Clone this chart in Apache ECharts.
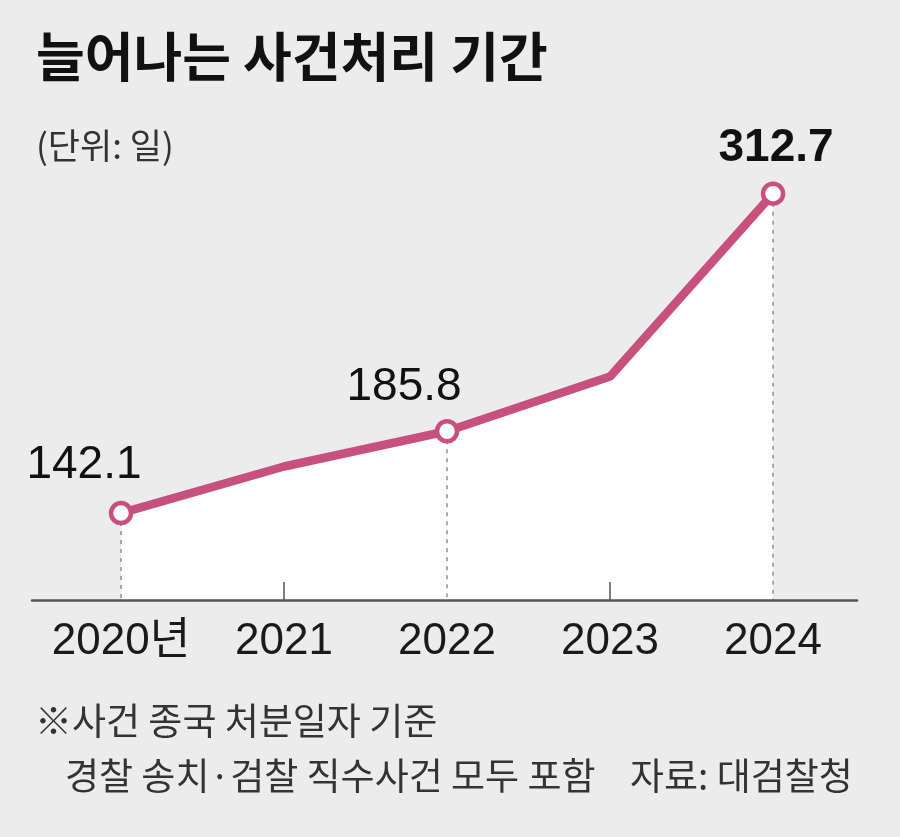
<!DOCTYPE html>
<html>
<head>
<meta charset="utf-8">
<script src="https://cdn.jsdelivr.net/npm/echarts@6/dist/echarts.min.js"></script>
<style>
    html, body { margin: 0; padding: 0; background: #ebeceb; }
    #chart { width: 900px; height: 837px; }
</style>
</head>
<body>
<div id="chart"></div>
<script>
// 데이터
var years = [2020, 2021, 2022, 2023, 2024];
var days = [142.1, 167, 185.8, 215, 312.7];
var markedYears = [2020, 2022, 2024]; // 원 표시 + 값 라벨
var tickYears = [2021, 2023];         // 축 위로 짧은 눈금
var yearLabels = ['2020년', '2021', '2022', '2023', '2024'];

var sKr = "'Noto Sans CJK KR', sans-serif";
var sNum = "'Liberation Sans', 'Noto Sans CJK KR', sans-serif";
var sPink = '#c8507c';

// 값 라벨 위치 (점 기준 offset)
var labelOffsets = {
    2020: [-37, -8],
    2022: [-43, -4],
    2024: [3, -5]
};

var lineData = years.map(function (y, i) {
    var bMarked = markedYears.indexOf(y) > -1;
    var item = { value: [y, days[i]] };
    if (!bMarked) {
        item.symbol = 'none';
        item.label = { show: false };
    } else {
        item.label = {
            show: true,
            offset: labelOffsets[y],
            fontWeight: y === 2024 ? 'bold' : 'normal'
        };
    }
    return item;
});

var areaData = years.map(function (y, i) { return [y, days[i]]; });

var yMin = 95.7;
var markLines = markedYears.map(function (y) {
    var v = days[years.indexOf(y)];
    return [{ coord: [y, v] }, { coord: [y, yMin] }];
});

var txt = function (text, left, top, size, weight, color) {
    return {
        text: text, left: left, top: top, padding: 0,
        textStyle: { fontSize: size, fontWeight: weight, color: color, fontFamily: sKr }
    };
};

var option = {
    backgroundColor: '#ebeceb',
    animation: false,
    title: [
        txt('늘어나는 사건처리 기간', 36, 30, 53, 'bold', '#111'),
        txt('(단위: 일)', 36, 128, 35, 'normal', '#333'),
        txt('※사건 종국 처분일자 기준', 35, 702, 37, 'normal', '#333'),
        txt('경찰 송치·검찰 직수사건 모두 포함', 65, 757, 37, 'normal', '#333'),
        txt('자료: 대검찰청', 630, 757, 37, 'normal', '#333')
    ],
    grid: { left: 32, right: 43, top: 100, bottom: 237 },
    xAxis: {
        type: 'value',
        min: 2019.454,
        max: 2024.515,
        z: 6,
        axisLine: { show: true, lineStyle: { color: '#555', width: 2.5 } },
        axisTick: {
            show: true, inside: true, length: 18,
            customValues: tickYears,
            lineStyle: { color: '#555', width: 1.5 }
        },
        axisLabel: {
            customValues: years,
            margin: 20,
            fontSize: 44,
            color: '#1a1a1a',
            fontFamily: sNum,
            formatter: function (v) {
                return yearLabels[years.indexOf(Math.round(v))] || '';
            }
        },
        splitLine: { show: false }
    },
    yAxis: {
        type: 'value',
        min: yMin,
        max: 362.7,
        show: false,
        splitLine: { show: false }
    },
    series: [{
        type: 'line',
        z: 1,
        data: areaData,
        symbol: 'none',
        lineStyle: { width: 0 },
        areaStyle: { color: '#ffffff', opacity: 1, origin: 'start' },
        markLine: {
            silent: true,
            symbol: ['none', 'none'],
            label: { show: false },
            lineStyle: { color: '#a8a8a8', type: [4, 5], width: 2 },
            data: markLines
        }
    }, {
        type: 'line',
        z: 10,
        data: lineData,
        symbol: 'circle',
        symbolSize: 20,
        itemStyle: { color: '#ffffff', borderColor: sPink, borderWidth: 4.5 },
        lineStyle: { color: sPink, width: 8.5 },
        label: {
            position: 'top',
            fontSize: 46,
            color: '#111',
            fontFamily: sNum,
            formatter: function (p) { return p.value[1].toFixed(1); }
        }
    }]
};

var myChart = echarts.init(document.getElementById('chart'), null, { renderer: 'canvas' });
myChart.setOption(option);
</script>
</body>
</html>
